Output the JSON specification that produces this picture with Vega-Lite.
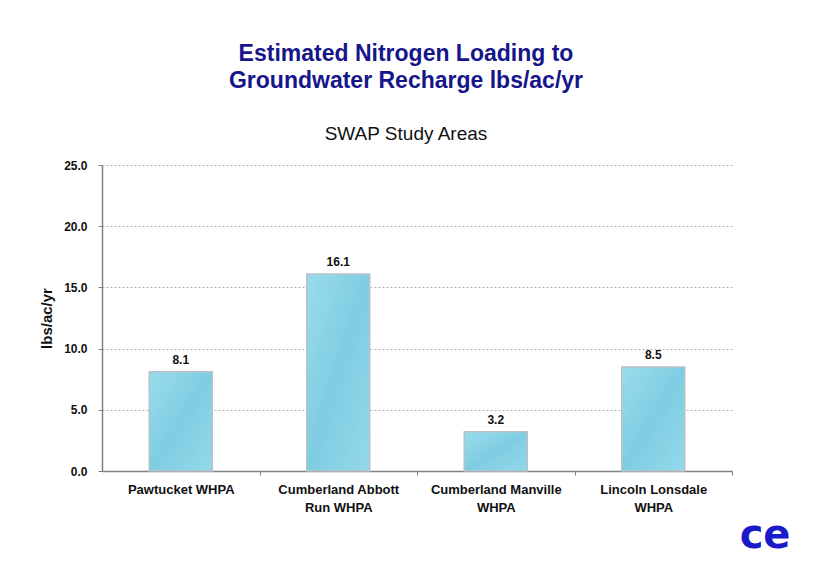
{
  "$schema": "https://vega.github.io/schema/vega-lite/v6.json",
  "autosize": {"type": "none"},
  "width": 630,
  "height": 306,
  "padding": {"left": 102, "top": 165, "right": 102, "bottom": 115},
  "background": "white",
  "config": {
    "font": "Liberation Sans",
    "view": {"stroke": null}
  },
  "title": {
    "text": ["Estimated Nitrogen Loading to", "Groundwater Recharge lbs/ac/yr"],
    "subtitle": "SWAP Study Areas",
    "font": "Liberation Sans",
    "fontSize": 23,
    "fontWeight": "bold",
    "color": "#16168a",
    "lineHeight": 27,
    "subtitleFont": "Liberation Sans",
    "subtitleFontSize": 19,
    "subtitleColor": "#111111",
    "subtitlePadding": 32,
    "anchor": "middle",
    "dx": -11,
    "offset": 15
  },
  "data": {
    "values": [
      {"area": "Pawtucket WHPA", "value": 8.1},
      {"area": "Cumberland Abbott Run WHPA", "value": 16.1},
      {"area": "Cumberland Manville WHPA", "value": 3.2},
      {"area": "Lincoln Lonsdale WHPA", "value": 8.5}
    ]
  },
  "encoding": {
    "x": {
      "field": "area",
      "type": "nominal",
      "sort": null,
      "scale": {"paddingInner": 0.6, "paddingOuter": 0.3},
      "axis": {
        "title": "ce",
        "titleFont": "DejaVu Sans",
        "titleFontSize": 40,
        "titleFontWeight": "bold",
        "titleColor": "#1a1ac8",
        "titleAlign": "right",
        "titleBaseline": "alphabetic",
        "titleAnchor": "end",
        "titleX": 688,
        "titleY": 76,
        "labelAngle": 0,
        "labelFontSize": 13,
        "labelFontWeight": "bold",
        "labelColor": "#111111",
        "labelLineHeight": 18,
        "labelPadding": 8,
        "labelOffset": -78.75,
        "labelExpr": "datum.label == 'Cumberland Abbott Run WHPA' ? ['Cumberland Abbott', 'Run WHPA'] : datum.label == 'Cumberland Manville WHPA' ? ['Cumberland Manville', 'WHPA'] : datum.label == 'Lincoln Lonsdale WHPA' ? ['Lincoln Lonsdale', 'WHPA'] : datum.label",
        "tickSize": 4,
        "tickOffset": 78.75,
        "tickColor": "#808080",
        "domainColor": "#808080",
        "domainWidth": 1.5,
        "grid": false
      }
    },
    "y": {
      "field": "value",
      "type": "quantitative",
      "scale": {"domain": [0, 25], "nice": false},
      "axis": {
        "title": "lbs/ac/yr",
        "titleFontSize": 15,
        "titleFontWeight": "bold",
        "titleColor": "#111111",
        "titlePadding": 9,
        "values": [0, 5, 10, 15, 20, 25],
        "format": ".1f",
        "labelFontSize": 12,
        "labelFontWeight": "bold",
        "labelColor": "#111111",
        "labelPadding": 11,
        "tickSize": 4,
        "tickColor": "#808080",
        "domainColor": "#808080",
        "domainWidth": 1.5,
        "grid": true,
        "gridColor": "#b5b5b5",
        "gridDash": [2, 2],
        "gridWidth": 1
      }
    }
  },
  "layer": [
    {
      "mark": {
        "type": "bar",
        "color": {
          "gradient": "linear",
          "x1": 0, "y1": 0, "x2": 1, "y2": 1,
          "stops": [
            {"offset": 0, "color": "#9adcec"},
            {"offset": 0.5, "color": "#7fcde2"},
            {"offset": 1, "color": "#94d8ea"}
          ]
        },
        "stroke": "#b8c2c6",
        "strokeWidth": 1.5
      }
    },
    {
      "mark": {
        "type": "text",
        "baseline": "alphabetic",
        "dy": -8,
        "fontSize": 12,
        "fontWeight": "bold",
        "color": "#111111"
      },
      "encoding": {
        "text": {"field": "value", "type": "quantitative", "format": ".1f"}
      }
    }
  ]
}
